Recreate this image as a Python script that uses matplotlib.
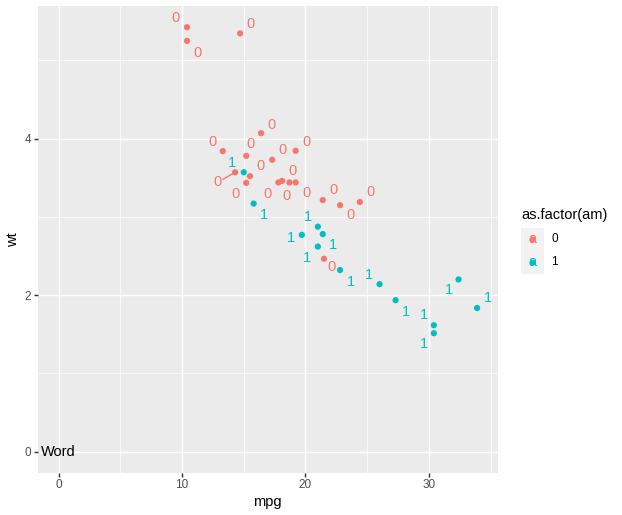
import numpy as np
import matplotlib
matplotlib.use("Agg")
import matplotlib.pyplot as plt
from matplotlib.patches import Rectangle
from matplotlib.lines import Line2D

plt.rcParams['font.family'] = ['Liberation Sans', 'DejaVu Sans']

# mtcars: mpg, wt, am
mpg = [21.0, 21.0, 22.8, 21.4, 18.7, 18.1, 14.3, 24.4, 22.8, 19.2, 17.8, 16.4, 17.3, 15.2,
       10.4, 10.4, 14.7, 32.4, 30.4, 33.9, 21.5, 15.5, 15.2, 13.3, 19.2, 27.3, 26.0, 30.4,
       15.8, 19.7, 15.0, 21.4]
wt = [2.620, 2.875, 2.320, 3.215, 3.440, 3.460, 3.570, 3.190, 3.150, 3.440, 3.440, 4.070,
      3.730, 3.780, 5.250, 5.424, 5.345, 2.200, 1.615, 1.835, 2.465, 3.520, 3.435, 3.840,
      3.845, 1.935, 2.140, 1.513, 3.170, 2.770, 3.570, 2.780]
am = [1, 1, 1, 0, 0, 0, 0, 0, 0, 0, 0, 0, 0, 0, 0, 0, 0, 1, 1, 1, 0, 0, 0, 0, 0, 1, 1, 1,
      1, 1, 1, 1]

# repelled label positions
lab_x = [20.14, 20.17, 23.66, 22.25, 18.49, 18.92, 12.87, 25.25, 23.68, 20.06, 16.95, 17.25,
         18.14, 15.57, 11.22, 9.49, 15.55, 31.60, 29.58, 34.82, 22.14, 16.33, 14.36, 12.43,
         20.06, 28.17, 25.17, 29.58, 16.65, 18.82, 14.06, 22.25]
lab_y = [2.48, 3.00, 2.17, 3.34, 3.27, 3.58, 3.44, 3.32, 3.02, 3.31, 3.29, 4.18,
         3.85, 3.93, 5.10, 5.54, 5.47, 2.06, 1.74, 1.96, 2.36, 3.65, 3.29, 3.96,
         3.96, 1.79, 2.26, 1.37, 3.02, 2.73, 3.69, 2.64]

levels = ['0', '1']
colors = {0: '#F8766D', 1: '#00BFC4'}

W, H, DPI = 622, 515, 96
fig = plt.figure(figsize=(W / DPI, H / DPI), dpi=DPI)
fig.patch.set_facecolor('white')

# panel in pixels
pl, pr, pt, pb = 37.7, 498.0, 6.0, 472.8
ax = fig.add_axes([pl / W, 1 - pb / H, (pr - pl) / W, (pb - pt) / H])
ax.set_facecolor('#EBEBEB')

# ggplot-ish expanded limits (data incl. the "Word" annotation at 0,0)
xmin, xmax = 0, max(mpg)
ymin, ymax = 0, max(wt)
ex, ey = 0.05 * (xmax - xmin), 0.05 * (ymax - ymin)
ax.set_xlim(xmin - ex, xmax + ex)
ax.set_ylim(ymin - ey, ymax + ey)

ax.set_xticks([0, 10, 20, 30])
ax.set_yticks([0, 2, 4])
ax.set_xticks([5, 15, 25, 35], minor=True)
ax.set_yticks([1, 3, 5], minor=True)
ax.grid(which='major', color='white', linewidth=1.07)
ax.grid(which='minor', color='white', linewidth=0.53)
ax.set_axisbelow(True)
for s in ax.spines.values():
    s.set_visible(False)
ax.tick_params(which='major', length=2.75, width=1.07, color='#333333',
               labelcolor='#4D4D4D', labelsize=8.8, pad=2.2)
ax.tick_params(which='minor', length=0)

ax.set_xlabel('mpg', fontsize=11, labelpad=3)
ax.set_ylabel('wt', fontsize=11, labelpad=3)

cols = [colors[a] for a in am]
ax.scatter(mpg, wt, s=22, c=cols, linewidths=0, zorder=3)

# segments for labels that sit far from their point
fig.canvas.draw()
tr = ax.transData
inv = tr.inverted()
for x, y, lx, ly, c in zip(mpg, wt, lab_x, lab_y, cols):
    p = tr.transform((x, y))
    q = tr.transform((lx, ly))
    d = p - q
    dist = np.hypot(*d)
    if dist > 18:
        u = d / dist
        a = inv.transform(q + u * 6.5)
        b = inv.transform(p - u * 2.5)
        ax.plot([a[0], b[0]], [a[1], b[1]], color=c, linewidth=1.07, zorder=2)

for lx, ly, a, c in zip(lab_x, lab_y, am, cols):
    ax.text(lx, ly, str(a), color=c, fontsize=11, ha='center', va='center', zorder=4)

ax.text(0, 0, 'Word', color='black', fontsize=11, ha='center', va='center', zorder=4)

# legend drawn by hand
def fx(px):
    return px / W

def fy(py):
    return 1 - py / H

fig.text(fx(521.5), fy(215), 'as.factor(am)', fontsize=11, ha='left', va='center')
key_l, key_w, key_h, key_top = 520.5, 23.0, 23.0, 227.5
for i, lev in enumerate(levels):
    top = key_top + i * key_h
    fig.patches.append(Rectangle((fx(key_l), fy(top + key_h)), key_w / W, key_h / H,
                                 transform=fig.transFigure, facecolor='#F2F2F2',
                                 edgecolor='none', zorder=1))
    cx, cy = key_l + key_w / 2, top + key_h / 2
    fig.lines.append(Line2D([fx(cx)], [fy(cy)], marker='o', markersize=4.6,
                            markeredgewidth=0, color=colors[i], transform=fig.transFigure,
                            zorder=2))
    fig.text(fx(cx), fy(cy), 'a', color=colors[i], fontsize=11, ha='center',
             va='center', zorder=3)
    fig.text(fx(551.5), fy(cy), lev, fontsize=8.8, ha='left', va='center')

fig.savefig('out.png', dpi=DPI)
